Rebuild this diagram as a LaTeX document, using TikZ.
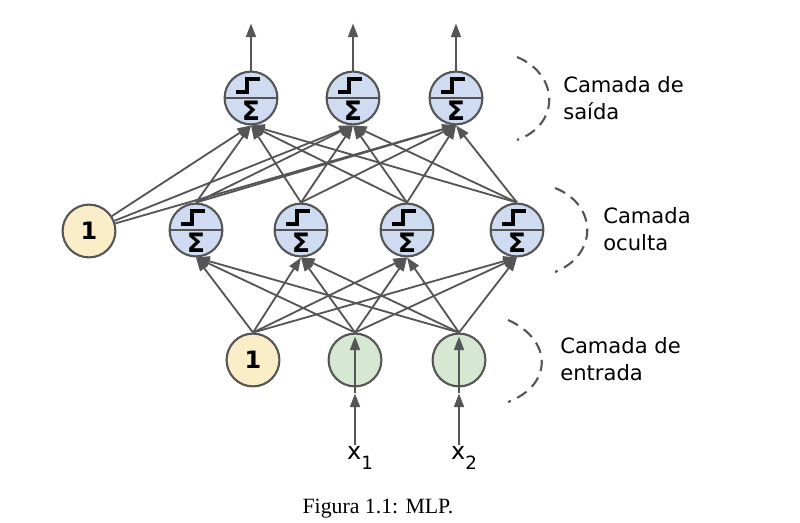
\documentclass[tikz,border=0pt]{standalone}
\usepackage{fontspec}
\setmainfont{Liberation Serif}
\setsansfont{DejaVu Sans}
\usepackage{tikz}
\usetikzlibrary{arrows.meta, positioning, calc}
\definecolor{netgray}{RGB}{85, 85, 85}
\definecolor{sumblue}{RGB}{206, 219, 240}
\definecolor{biasyellow}{RGB}{250, 238, 200}
\definecolor{inputgreen}{RGB}{214, 232, 210}

\begin{document}
\begin{tikzpicture}[x=0.025cm, y=-0.025cm,
  neuron/.style={circle, draw=netgray, line width=1.5pt, minimum size=1.32cm, inner sep=0pt},
  ltu/.style={neuron, fill=sumblue},
  bias/.style={neuron, fill=biasyellow, font=\sffamily\bfseries\fontsize{17}{17}\selectfont},
  inp/.style={neuron, fill=inputgreen},
  link/.style={draw=netgray, line width=1.3pt, -{Triangle[length=3.4mm, width=2.5mm]}},
  layerlabel/.style={font=\sffamily\fontsize{15}{19.5}\selectfont, align=left, anchor=west, inner sep=0pt},
  brace/.style={draw=netgray, line width=1.5pt, dash pattern=on 8pt off 5pt}]
  \useasboundingbox (0,0) rectangle (800,523);

  % input layer
  \node[bias] (i0) at (253,360) {1};
  \node[inp] (i1) at (355,360) {};
  \node[inp] (i2) at (459,360) {};
  \node[font=\sffamily\fontsize{17}{17}\selectfont, inner sep=1pt] (x1) at (360,458) {x\raisebox{-7pt}{\fontsize{13}{13}\selectfont 1}};
  \node[font=\sffamily\fontsize{17}{17}\selectfont, inner sep=1pt] (x2) at (464,458) {x\raisebox{-7pt}{\fontsize{13}{13}\selectfont 2}};

  % hidden layer
  \node[bias] (b1) at (89,231) {1};
  \node[ltu] (h1) at (196,230) {};
  \node[ltu] (h2) at (301,230) {};
  \node[ltu] (h3) at (407,230) {};
  \node[ltu] (h4) at (517,230) {};

  % output layer
  \node[ltu] (o1) at (251,98) {};
  \node[ltu] (o2) at (353,98) {};
  \node[ltu] (o3) at (456,98) {};

  % step function and sum inside each unit
  \foreach \n in {h1,h2,h3,h4,o1,o2,o3} {
    \draw[netgray, line width=1.2pt] (\n.west) -- (\n.east);
    \draw[black, line width=2.6pt, shift={(\n.center)}] (-15,-6) -- (-4,-6) -- (-4,-19) -- (9,-19);
    \node[font=\sffamily\bfseries\fontsize{19}{19}\selectfont, inner sep=0pt] (\n-sum) at ($(\n.center)+(0,13)$) {Σ};
  }

  % connections
  \foreach \s in {i0,i1,i2}
    \foreach \t in {h1,h2,h3,h4}
      \draw[link] (\s.north) -- (\t.south);
  \foreach \t in {o1,o2,o3} {
    \draw[link] (b1) -- (\t.south);
    \foreach \s in {h1,h2,h3,h4}
      \draw[link] (\s.north) -- (\t.south);
    \draw[link] (\t.north) -- ++(0,-47);
  }
  \foreach \i/\x in {i1/x1,i2/x2} {
    \draw[link] (\i |- \x.north) -- ($(\i.south)+(0,6)$);
    \draw[link] ($(\i.south)+(0,6)$) -- ($(\i.north)+(0,4)$);
  }

  % layer labels
  \draw[brace] (517,57) .. controls (560,75) and (560,125) .. (517,140);
  \draw[brace] (555,188) .. controls (598,205) and (598,255) .. (555,272);
  \draw[brace] (508,320) .. controls (553,340) and (553,385) .. (508,402);
  \node[layerlabel] (outlabel) at (563,98) {Camada de\\saída};
  \node[layerlabel] (hidlabel) at (603,229) {Camada\\oculta};
  \node[layerlabel] (inlabel) at (560,359) {Camada de\\entrada};

  \node[font=\fontsize{15.5}{15.5}\selectfont] (caption) at (378,509) {Figura 1.1: MLP.};
\end{tikzpicture}
\end{document}
